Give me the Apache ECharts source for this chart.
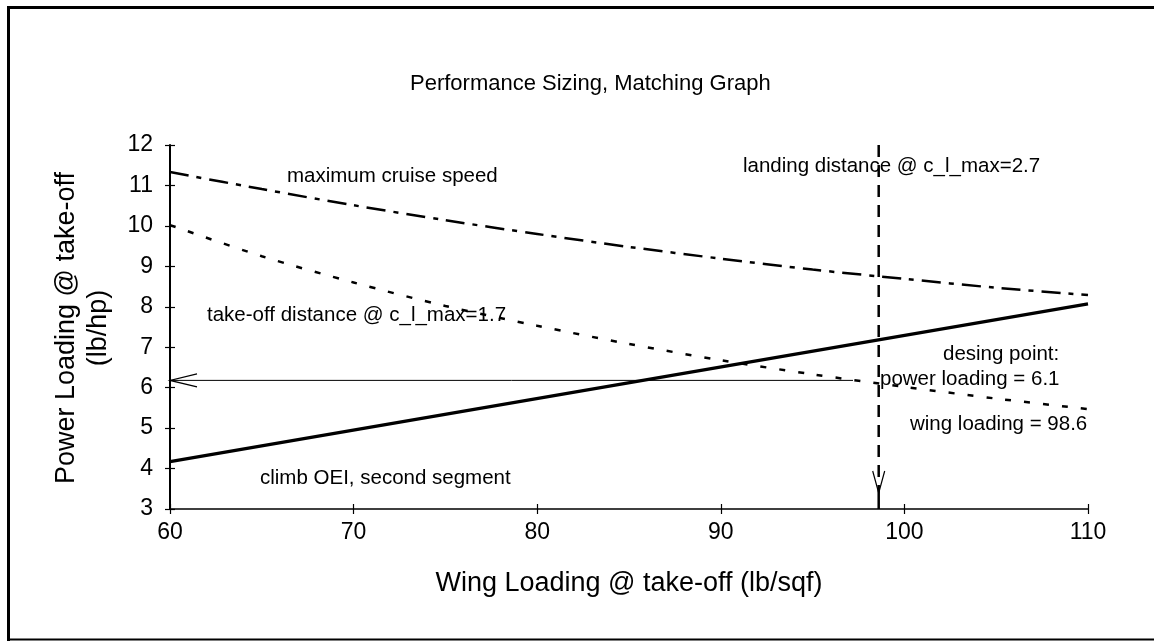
<!DOCTYPE html>
<html>
<head>
<meta charset="utf-8">
<script src="https://cdn.jsdelivr.net/npm/echarts@6/dist/echarts.min.js"></script>
<style>
html,body{margin:0;padding:0;background:#fff;}
#chart{width:1154px;height:641px;}
</style>
</head>
<body>
<div id="chart"></div>
<script>
// ---- data ----
const wingLoading = [60, 65, 70, 75, 80, 85, 90, 95, 100, 105, 110];
const cruiseSpeed = [11.33, 10.91, 10.51, 10.14, 9.80, 9.48, 9.19, 8.92, 8.69, 8.47, 8.29];
const takeOffDist = [10.02, 9.25, 8.60, 8.02, 7.53, 7.08, 6.68, 6.33, 6.02, 5.73, 5.47];
const climbX = [60, 110];
const climbOEI = [4.17, 8.07];
const landingWS = 98.6;
const landingRange = [12, 3];
const designPL = 6.18;
const designArrowX = [97.2, 60];
const xTicks = [60, 70, 80, 90, 100, 110];
const yTicks = [3, 4, 5, 6, 7, 8, 9, 10, 11, 12];

const FONT = '"Liberation Sans", Arial, sans-serif';
const chart = echarts.init(document.getElementById('chart'), null, {renderer: 'canvas'});

function pairs(xs, ys) { return xs.map((x, i) => [x, ys[i]]); }

function arrowSeries(name, data, opts) {
  return {
    type: 'custom', name: name, xAxisIndex: 0, yAxisIndex: 0, silent: true, z: 5,
    data: [data],
    encode: {x: [0, 2], y: [1, 3]},
    renderItem: function (params, api) {
      const p0 = api.coord([api.value(0), api.value(1)]);
      const p1 = api.coord([api.value(2), api.value(3)]);
      const dx = p1[0] - p0[0], dy = p1[1] - p0[1];
      const len = Math.sqrt(dx * dx + dy * dy);
      const ux = dx / len, uy = dy / len;
      const nx = -uy, ny = ux;
      const tip = [p1[0] - ux * opts.tipBack, p1[1] - uy * opts.tipBack];
      const a1 = [tip[0] - ux * opts.headLen + nx * opts.headW, tip[1] - uy * opts.headLen + ny * opts.headW];
      const a2 = [tip[0] - ux * opts.headLen - nx * opts.headW, tip[1] - uy * opts.headLen - ny * opts.headW];
      const children = [
        {type: 'line', shape: {x1: p0[0], y1: p0[1], x2: tip[0], y2: tip[1]},
         style: {stroke: '#000', lineWidth: opts.width, lineDash: opts.dash || null, fill: null}},
        {type: 'polyline', shape: {points: [a1, tip, a2]},
         style: {stroke: '#000', lineWidth: opts.headWidth, fill: null}}
      ];
      if (opts.tipBack > 0) {
        children.push({type: 'line', shape: {x1: tip[0], y1: tip[1], x2: p1[0], y2: p1[1]},
          style: {stroke: '#000', lineWidth: opts.width, fill: null}});
      }
      return {type: 'group', children: children};
    }
  };
}

const baseX = {
  type: 'value', min: xTicks[0], max: xTicks[xTicks.length - 1], interval: 10,
  splitLine: {show: false}
};
const baseY = {
  type: 'value', min: yTicks[0], max: yTicks[yTicks.length - 1], interval: 1,
  splitLine: {show: false}
};

const option = {
  backgroundColor: '#ffffff',
  animation: false,
  grid: {left: 170, right: 66, top: 145, bottom: 132, containLabel: false},
  xAxis: [
    Object.assign({}, baseX, {
      position: 'bottom',
      axisLine: {show: true, onZero: false, lineStyle: {color: '#000', width: 1.5}},
      axisTick: {show: true, inside: false, length: 5, lineStyle: {color: '#000', width: 1.2}},
      axisLabel: {color: '#000', fontSize: 23, fontFamily: FONT, margin: 12},
      name: 'Wing Loading @ take-off (lb/sqf)',
      nameLocation: 'middle', nameGap: 61,
      nameTextStyle: {color: '#000', fontSize: 27, fontFamily: FONT}
    }),
    Object.assign({}, baseX, {
      position: 'bottom',
      axisLine: {show: false, onZero: false},
      axisTick: {show: true, inside: true, length: 5, lineStyle: {color: '#000', width: 1.2}},
      axisLabel: {show: false}
    })
  ],
  yAxis: [
    Object.assign({}, baseY, {
      position: 'left',
      axisLine: {show: true, onZero: false, lineStyle: {color: '#000', width: 2}},
      axisTick: {show: true, inside: false, length: 5, lineStyle: {color: '#000', width: 1.2}},
      axisLabel: {color: '#000', fontSize: 23, fontFamily: FONT, margin: 17}
    }),
    Object.assign({}, baseY, {
      position: 'left',
      axisLine: {show: false, onZero: false},
      axisTick: {show: true, inside: true, length: 5, lineStyle: {color: '#000', width: 1.2}},
      axisLabel: {show: false}
    })
  ],
  series: [
    {
      type: 'line', name: 'maximum cruise speed', xAxisIndex: 0, yAxisIndex: 0,
      data: pairs(wingLoading, cruiseSpeed), symbol: 'none', smooth: 0.3,
      lineStyle: {color: '#000', width: 2.5, type: [19, 8, 5, 8], cap: 'butt'}
    },
    {
      type: 'line', name: 'take-off distance', xAxisIndex: 0, yAxisIndex: 0,
      data: pairs(wingLoading, takeOffDist), symbol: 'none', smooth: 0.3,
      lineStyle: {color: '#000', width: 2.5, type: [6, 13], cap: 'butt'}
    },
    {
      type: 'line', name: 'climb OEI', xAxisIndex: 0, yAxisIndex: 0,
      data: pairs(climbX, climbOEI), symbol: 'none',
      lineStyle: {color: '#000', width: 3.2}
    },
    arrowSeries('landing distance', [landingWS, landingRange[0], landingWS, landingRange[1]],
      {width: 2.5, dash: [12, 8], headLen: 22, headW: 6, headWidth: 1.2, tipBack: 16}),
    arrowSeries('design point', [designArrowX[0], designPL, designArrowX[1], designPL],
      {width: 1, dash: null, headLen: 27, headW: 6.5, headWidth: 1.2, tipBack: 0})
  ],
  graphic: [
    // frame
    {type: 'line', shape: {x1: 8, y1: 7.5, x2: 1154, y2: 7.5}, style: {stroke: '#000', lineWidth: 3}},
    {type: 'line', shape: {x1: 8.5, y1: 6, x2: 8.5, y2: 641}, style: {stroke: '#000', lineWidth: 3}},
    {type: 'line', shape: {x1: 8, y1: 639.5, x2: 1154, y2: 639.5}, style: {stroke: '#000', lineWidth: 2}},
    // title
    {type: 'text', x: 410, y: 84, style: {text: 'Performance Sizing, Matching Graph', fill: '#000', font: '22px ' + FONT, textVerticalAlign: 'middle'}},
    // y axis title
    {type: 'text', x: 83, y: 328, rotation: Math.PI / 2,
     style: {text: 'Power Loading @ take-off\n(lb/hp)', fill: '#000', font: '27px ' + FONT,
             textAlign: 'center', textVerticalAlign: 'middle', lineHeight: 32}},
    // annotations
    {type: 'text', x: 287, y: 176, style: {text: 'maximum cruise speed', fill: '#000', font: '20.5px ' + FONT, textVerticalAlign: 'middle'}},
    {type: 'text', x: 207, y: 315, style: {text: 'take-off distance @ c_l_max=1.7', fill: '#000', font: '20.5px ' + FONT, textVerticalAlign: 'middle'}},
    {type: 'text', x: 260, y: 478, style: {text: 'climb OEI, second segment', fill: '#000', font: '20.5px ' + FONT, textVerticalAlign: 'middle'}},
    {type: 'text', x: 743, y: 166, style: {text: 'landing distance @ c_l_max=2.7', fill: '#000', font: '20.5px ' + FONT, textVerticalAlign: 'middle'}},
    {type: 'text', x: 943, y: 354, style: {text: 'desing point:', fill: '#000', font: '20.5px ' + FONT, textVerticalAlign: 'middle'}},
    {type: 'text', x: 880, y: 379, style: {text: 'power loading = 6.1', fill: '#000', font: '20.5px ' + FONT, textVerticalAlign: 'middle'}},
    {type: 'text', x: 910, y: 424, style: {text: 'wing loading = 98.6', fill: '#000', font: '20.5px ' + FONT, textVerticalAlign: 'middle'}}
  ]
};
chart.setOption(option);
</script>
</body>
</html>
